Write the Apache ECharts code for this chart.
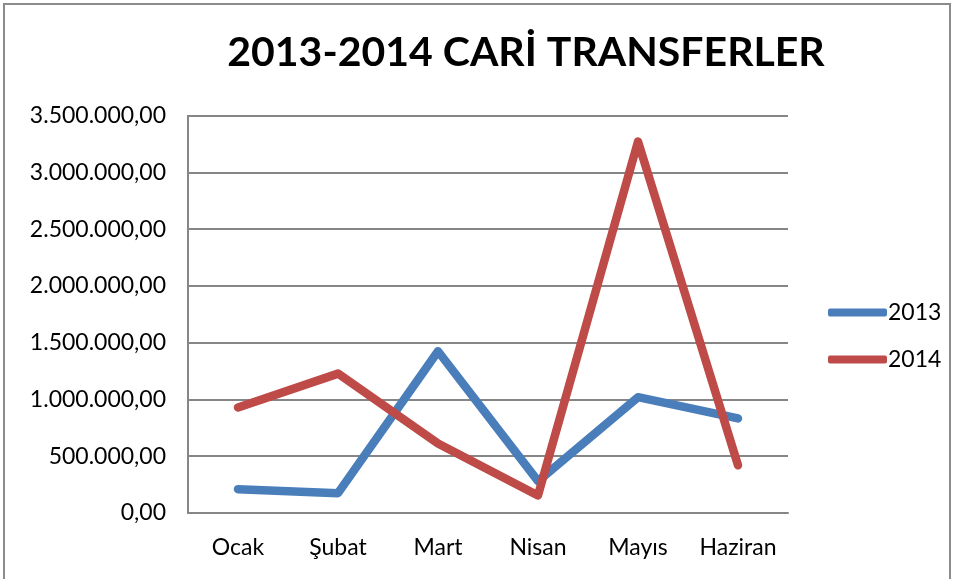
<!DOCTYPE html>
<html>
<head>
<meta charset="utf-8">
<script src="https://cdn.jsdelivr.net/npm/echarts@6/dist/echarts.min.js"></script>
<style>
  html, body { margin: 0; padding: 0; background: #fff; }
  #frame { position: absolute; left: 3px; top: 3px; width: 948px; height: 590px;
           border: 2px solid #8c8c8c; box-sizing: border-box; }
  #main { position: absolute; left: 0; top: 0; width: 955px; height: 579px; }
</style>
</head>
<body>
<div id="frame"></div>
<div id="main"></div>
<script>
// ay isimleri ve seri verileri
var months = ['Ocak', 'Şubat', 'Mart', 'Nisan', 'Mayıs', 'Haziran'];
var data2013 = [210000, 175000, 1425000, 280000, 1020000, 833000];
var data2014 = [930000, 1228000, 612000, 155000, 3272000, 420000];

var myChart = echarts.init(document.getElementById('main'));

// 3.500.000,00 biçimi
function trFormat(v) {
    var s = Math.round(v).toString().replace(/\B(?=(\d{3})+(?!\d))/g, '.');
    return s + ',00';
}

var fontFam = 'Lato, "Open Sans", sans-serif';

var option = {
    animation: false,
    backgroundColor: 'transparent',
    title: {
        text: '2013-2014 CARİ TRANSFERLER',
        left: 521,
        textAlign: 'center',
        top: 27,
        textStyle: { color: '#000', fontSize: 41, fontWeight: 'bold', fontFamily: fontFam }
    },
    legend: {
        orient: 'vertical',
        left: 823,
        top: 296,
        itemWidth: 59,
        itemHeight: 8,
        itemGap: 24,
        icon: 'roundRect',
        textStyle: { color: '#000', fontSize: 23, fontFamily: fontFam, padding: [0, 0, 0, -4] },
        data: ['2013', '2014']
    },
    grid: { left: 188, right: 167, top: 115.7, bottom: 66, containLabel: false },
    xAxis: {
        type: 'category',
        data: months,
        boundaryGap: true,
        axisLine: { lineStyle: { color: '#868686', width: 2 } },
        axisTick: { show: false },
        axisLabel: { color: '#000', fontSize: 23, fontFamily: fontFam, margin: 23, interval: 0, hideOverlap: false }
    },
    yAxis: {
        type: 'value',
        min: 0,
        max: 3500000,
        interval: 500000,
        axisLine: { show: true, lineStyle: { color: '#868686', width: 2 } },
        axisTick: { show: false },
        splitLine: { lineStyle: { color: '#868686', width: 2 } },
        axisLabel: { color: '#000', fontSize: 23, fontFamily: fontFam, margin: 22, formatter: trFormat }
    },
    series: [
        {
            name: '2013', type: 'line', data: data2013, symbol: 'none',
            itemStyle: { color: '#4A7EBB' },
            lineStyle: { width: 8.5, color: '#4A7EBB', cap: 'round', join: 'round' }
        },
        {
            name: '2014', type: 'line', data: data2014, symbol: 'none',
            itemStyle: { color: '#BE4B48' },
            lineStyle: { width: 8.5, color: '#BE4B48', cap: 'round', join: 'round' }
        }
    ]
};

myChart.setOption(option);
</script>
</body>
</html>
